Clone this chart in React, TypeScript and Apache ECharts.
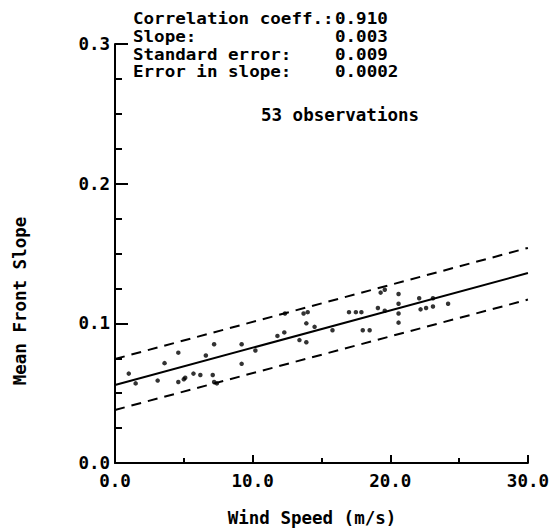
import React, { useEffect, useRef } from "react";
import * as echarts from "echarts";

const windSpeed = [
  1.0, 1.5, 3.1, 3.6, 4.6, 4.6, 5.0, 5.1, 5.7, 6.2, 6.6, 7.1, 7.2, 7.2, 7.4,
  9.2, 9.2, 10.2, 11.8, 12.3, 12.35, 13.4, 13.9, 13.9, 13.7, 14.0, 14.5, 15.8,
  17.0, 17.5, 17.9, 18.0, 18.5, 19.1, 19.6, 19.3, 19.6, 20.6, 20.6, 20.6, 20.6,
  22.1, 22.2, 22.6, 23.1, 23.1, 24.2,
];
const frontSlope = [
  0.064, 0.057, 0.059, 0.0715, 0.079, 0.058, 0.060, 0.061, 0.064, 0.063, 0.077,
  0.063, 0.085, 0.058, 0.057, 0.085, 0.071, 0.0805, 0.091, 0.0935, 0.107, 0.088,
  0.0865, 0.100, 0.107, 0.108, 0.0975, 0.095, 0.108, 0.108, 0.108, 0.095, 0.095,
  0.111, 0.109, 0.122, 0.124, 0.121, 0.114, 0.107, 0.1005, 0.118, 0.110, 0.111,
  0.118, 0.112, 0.114,
];

const fitX = [0, 30];
const fitY = [0.0558, 0.136];
const upperY = [0.0745, 0.154];
const lowerY = [0.038, 0.117];

const statLabels = ["Correlation coeff.:", "Slope:", "Standard error:", "Error in slope:"];
const statValues = ["0.910", "0.003", "0.009", "0.0002"];
const observationsText = "53 observations";
const xTitle = "Wind Speed (m/s)";
const yTitle = "Mean Front Slope";

const FONT = "'DejaVu Sans Mono', monospace";

export default function App() {
  const ref = useRef<HTMLDivElement>(null);
  useEffect(() => {
    if (!ref.current) return;
    const chart = echarts.init(ref.current, null, { renderer: "svg" });
    const textStyle = {
      fontFamily: FONT,
      fontSize: 17.5,
      fontWeight: "bold",
      fill: "#000",
    };
    const statStyle = { ...textStyle, fontSize: 15.2 };
    const statScale = 1.155;
    const graphics: any[] = [];
    statLabels.forEach((l, i) => {
      graphics.push({
        type: "text",
        x: 133,
        y: 19 + i * 17.8,
        scaleX: statScale,
        style: { ...statStyle, text: l, verticalAlign: "middle" },
      });
      graphics.push({
        type: "text",
        x: 335,
        y: 19 + i * 17.8,
        scaleX: statScale,
        style: { ...statStyle, text: statValues[i], verticalAlign: "middle" },
      });
    });
    graphics.push({
      type: "text",
      x: 261,
      y: 115,
      style: { ...textStyle, text: observationsText, verticalAlign: "middle" },
    });
    graphics.push({
      type: "text",
      x: 312,
      y: 518,
      style: { ...textStyle, text: xTitle, align: "center", verticalAlign: "middle" },
    });
    graphics.push({
      type: "text",
      x: 20,
      y: 301,
      rotation: Math.PI / 2,
      style: { ...textStyle, text: yTitle, align: "center", verticalAlign: "middle" },
    });

    const axisFont = { fontFamily: FONT, fontSize: 17.5, fontWeight: "bold", color: "#000" };
    const black2 = { color: "#000", width: 2 };
    chart.setOption({
      animation: false,
      grid: { left: 115, right: 20, top: 44, bottom: 69, containLabel: false },
      xAxis: {
        type: "value",
        min: 0,
        max: 30,
        interval: 10,
        axisLine: { show: true, onZero: false, lineStyle: black2 },
        axisTick: { show: true, inside: true, length: 8, lineStyle: black2 },
        minorTick: { show: true, splitNumber: 2, length: 5, lineStyle: black2 },
        splitLine: { show: false },
        minorSplitLine: { show: false },
        axisLabel: { ...axisFont, margin: 9, formatter: (v: number) => v.toFixed(1) },
      },
      yAxis: {
        type: "value",
        min: 0,
        max: 0.3,
        interval: 0.1,
        axisLine: { show: true, onZero: false, lineStyle: black2 },
        axisTick: { show: true, inside: true, length: 13, lineStyle: black2 },
        minorTick: { show: true, splitNumber: 4, length: 7, lineStyle: black2 },
        splitLine: { show: false },
        minorSplitLine: { show: false },
        axisLabel: { ...axisFont, margin: 5, formatter: (v: number) => v.toFixed(1) },
      },
      series: [
        {
          type: "scatter",
          data: windSpeed.map((x, i) => [x, frontSlope[i]]),
          symbol: "circle",
          symbolSize: 4.5,
          itemStyle: { color: "#000" },
        },
        {
          type: "line",
          data: fitX.map((x, i) => [x, fitY[i]]),
          symbol: "none",
          lineStyle: { color: "#000", width: 2 },
        },
        {
          type: "line",
          data: fitX.map((x, i) => [x, upperY[i]]),
          symbol: "none",
          lineStyle: { color: "#000", width: 2, type: [10, 7] },
        },
        {
          type: "line",
          data: fitX.map((x, i) => [x, lowerY[i]]),
          symbol: "none",
          lineStyle: { color: "#000", width: 2, type: [10, 7] },
        },
      ],
      graphic: graphics,
    });
    return () => chart.dispose();
  }, []);
  return <div ref={ref} style={{ width: 552, height: 532, position: "absolute", left: 0, top: 0 }} />;
}
